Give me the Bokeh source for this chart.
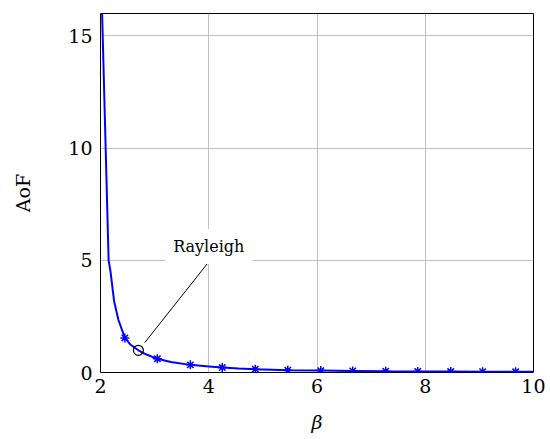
from bokeh.plotting import figure
from bokeh.models import Range1d, Label, FixedTicker
from bokeh.embed import file_html
from bokeh.resources import INLINE

# curve values
beta = [2.02, 2.15, 2.185, 2.25, 2.33, 2.45, 2.55, 2.70, 2.85, 3.05, 3.30, 3.66,
        4.00, 4.25, 4.55, 4.86, 5.46, 6.07, 6.66, 7.27, 7.86, 8.47, 9.06, 9.67, 10.0]
aof = [16.9, 5.0, 4.5, 3.2, 2.35, 1.54, 1.25, 0.99, 0.80, 0.61, 0.47, 0.34,
       0.27, 0.22, 0.18, 0.15, 0.10, 0.085, 0.07, 0.058, 0.048, 0.042, 0.036, 0.031, 0.029]

# star marks
mark_beta = [2.45, 3.05, 3.66, 4.25, 4.86, 5.46, 6.07, 6.66, 7.27, 7.86, 8.47, 9.06, 9.67]
mark_aof = [1.54, 0.61, 0.34, 0.22, 0.15, 0.10, 0.085, 0.07, 0.058, 0.048, 0.042, 0.036, 0.031]

# Rayleigh point and annotation
rayleigh_beta = [2.70]
rayleigh_aof = [0.99]
pin_start = (2.82, 1.34)
pin_end = (4.0, 4.93)
label_pos = (4.0, 5.62)

x_ticks = [2, 4, 6, 8, 10]
y_ticks = [0, 5, 10, 15]

SERIF = "DejaVu Serif"

p = figure(width=545, height=435, output_backend="svg", toolbar_location=None,
           x_range=Range1d(2, 10), y_range=Range1d(0, 16),
           min_border_left=100, min_border_right=12, min_border_top=13, min_border_bottom=62)

p.outline_line_color = "black"
p.outline_line_width = 1
p.background_fill_color = "white"
p.border_fill_color = "white"

p.xaxis.ticker = FixedTicker(ticks=x_ticks)
p.yaxis.ticker = FixedTicker(ticks=y_ticks)
for ax in (p.xaxis, p.yaxis):
    ax.axis_line_color = None
    ax.major_tick_in = 0
    ax.major_tick_out = 0
    ax.minor_tick_in = 0
    ax.minor_tick_out = 0
    ax.major_label_text_font = SERIF
    ax.major_label_text_font_size = "19px"
    ax.major_label_text_color = "black"
    ax.axis_label_text_font = SERIF
    ax.axis_label_text_font_size = "19px"
    ax.axis_label_text_color = "black"

p.xaxis.axis_label = "β"
p.xaxis.axis_label_text_font_style = "italic"
p.xaxis.major_label_standoff = 6
p.xaxis.axis_label_standoff = 15
p.yaxis.axis_label = "AoF"
p.yaxis.axis_label_text_font_style = "normal"
p.yaxis.major_label_standoff = 8
p.yaxis.axis_label_standoff = 31

p.grid.grid_line_color = "#c0c0c0"
p.grid.grid_line_width = 1

p.line(beta, aof, line_color="#0000ff", line_width=2)
p.scatter(mark_beta, mark_aof, marker="asterisk", size=9, line_color="#0000ff", line_width=1.5)

p.scatter(rayleigh_beta, rayleigh_aof, marker="circle", size=10, line_color="black",
          line_width=1.2, fill_color=None)

p.segment(x0=[pin_start[0]], y0=[pin_start[1]], x1=[pin_end[0]], y1=[pin_end[1]],
          line_color="black", line_width=1)

p.add_layout(Label(x=label_pos[0], y=label_pos[1], text="Rayleigh", text_font=SERIF,
                   text_font_size="16px", text_color="black", text_align="center",
                   text_baseline="middle", background_fill_color="white", padding=8))

open("out.html", "w").write(file_html(p, INLINE))
